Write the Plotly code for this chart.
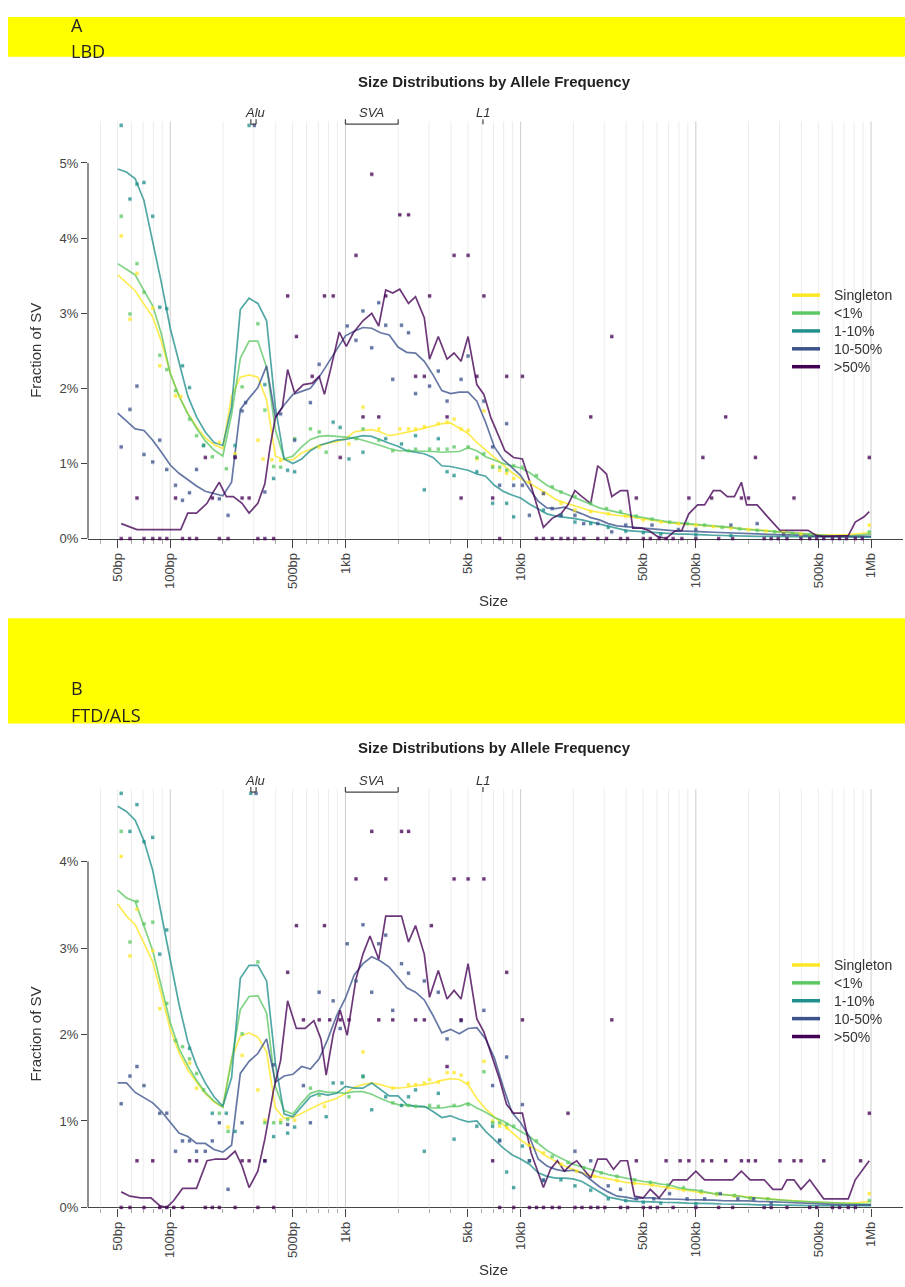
import numpy as np
import plotly.graph_objects as go

W, H = 905, 1287

SERIES = ["Singleton", "<1%", "1-10%", "10-50%", ">50%"]
COLORS = ["#FDE725", "#5DC863", "#21908C", "#3B528B", "#440154"]

# log10(SV size in bp) of the smoothed-curve grid
LOG_GRID = np.round(np.arange(1.70, 6.0001, 0.05), 2)

# ------------------------------------------------------------------ LBD
lbd_singleton = [
    3.51, 3.40, 3.30, 3.12, 2.95, 2.62, 2.20, 1.90, 1.67, 1.49,
    1.34, 1.25, 1.20, 1.90, 2.15, 2.18, 2.15, 1.85, 1.10, 1.05,
    1.05, 1.14, 1.19, 1.24, 1.27, 1.29, 1.33, 1.42, 1.44, 1.45,
    1.42, 1.37, 1.39, 1.41, 1.44, 1.47, 1.50, 1.53, 1.54, 1.47,
    1.40, 1.28, 1.18, 1.07, 0.97, 0.88, 0.80, 0.74, 0.67, 0.60,
    0.52, 0.48, 0.44, 0.40, 0.37, 0.35, 0.33, 0.31, 0.30, 0.28,
    0.26, 0.24, 0.22, 0.21, 0.20, 0.19, 0.18, 0.17, 0.16, 0.15,
    0.14, 0.13, 0.12, 0.11, 0.10, 0.09, 0.08, 0.07, 0.065, 0.06,
    0.055, 0.05, 0.05, 0.05, 0.06, 0.07, 0.08]
lbd_lt1 = [
    3.66, 3.58, 3.51, 3.30, 3.10, 2.72, 2.20, 1.90, 1.66, 1.47,
    1.30, 1.18, 1.10, 1.65, 2.40, 2.63, 2.63, 2.28, 1.45, 1.06,
    1.10, 1.22, 1.32, 1.36, 1.37, 1.36, 1.35, 1.34, 1.31, 1.28,
    1.24, 1.20, 1.17, 1.17, 1.17, 1.17, 1.16, 1.15, 1.15, 1.16,
    1.21, 1.17, 1.09, 1.04, 1.00, 0.97, 0.94, 0.88, 0.80, 0.71,
    0.65, 0.60, 0.55, 0.50, 0.45, 0.41, 0.38, 0.35, 0.32, 0.30,
    0.28, 0.26, 0.24, 0.22, 0.21, 0.20, 0.19, 0.18, 0.17, 0.16,
    0.15, 0.13, 0.12, 0.11, 0.10, 0.09, 0.08, 0.07, 0.06, 0.05,
    0.045, 0.04, 0.035, 0.035, 0.04, 0.05, 0.06]
lbd_1_10 = [
    4.92, 4.88, 4.79, 4.50, 3.95, 3.40, 2.80, 2.33, 1.90, 1.62,
    1.42, 1.28, 1.24, 1.75, 3.05, 3.20, 3.13, 2.90, 1.75, 1.06,
    1.00, 1.06, 1.17, 1.24, 1.28, 1.31, 1.32, 1.35, 1.37, 1.36,
    1.31, 1.27, 1.23, 1.17, 1.15, 1.13, 1.08, 0.97, 0.96, 0.94,
    0.91, 0.86, 0.83, 0.71, 0.63, 0.58, 0.54, 0.46, 0.40, 0.33,
    0.30, 0.29, 0.27, 0.25, 0.22, 0.19, 0.16, 0.13, 0.11, 0.10,
    0.09, 0.08, 0.07, 0.07, 0.06, 0.06, 0.06, 0.05, 0.045, 0.04,
    0.04, 0.035, 0.035, 0.03, 0.03, 0.03, 0.03, 0.025, 0.025, 0.02,
    0.02, 0.02, 0.02, 0.02, 0.02, 0.02, 0.02]
lbd_10_50 = [
    1.67, 1.57, 1.46, 1.44, 1.31, 1.15, 0.98, 0.87, 0.78, 0.70,
    0.63, 0.60, 0.57, 0.75, 1.72, 1.87, 2.01, 2.30, 1.62, 1.78,
    1.92, 1.96, 2.00, 2.15, 2.33, 2.52, 2.70, 2.76, 2.81, 2.80,
    2.74, 2.71, 2.55, 2.48, 2.47, 2.36, 2.18, 1.97, 1.93, 1.95,
    1.95, 1.83, 1.55, 1.22, 1.05, 0.95, 0.84, 0.66, 0.50, 0.41,
    0.40, 0.42, 0.38, 0.33, 0.28, 0.25, 0.20, 0.17, 0.16, 0.15,
    0.14, 0.12, 0.11, 0.11, 0.10, 0.10, 0.09, 0.09, 0.085, 0.08,
    0.075, 0.07, 0.065, 0.06, 0.06, 0.055, 0.05, 0.05, 0.04, 0.035,
    0.03, 0.03, 0.03, 0.03, 0.03, 0.03, 0.03]
# >50% is noisy, so it keeps its own (log10 size, %) vertices
lbd_gt50 = [
    (1.72, 0.20), (1.77, 0.16), (1.81, 0.12), (2.00, 0.12), (2.06, 0.12),
    (2.10, 0.34), (2.15, 0.34), (2.21, 0.47), (2.24, 0.60), (2.28, 0.75),
    (2.32, 0.56), (2.36, 0.56), (2.41, 0.47), (2.45, 0.34), (2.50, 0.47),
    (2.54, 0.73), (2.57, 1.22), (2.60, 1.61), (2.64, 1.75), (2.67, 2.25),
    (2.71, 1.94), (2.76, 2.05), (2.81, 2.07), (2.85, 2.16), (2.88, 1.92),
    (2.92, 2.30), (2.965, 2.75), (3.005, 2.56), (3.045, 2.74), (3.10, 2.90),
    (3.15, 3.00), (3.19, 2.83), (3.23, 3.31), (3.27, 3.27), (3.31, 3.32),
    (3.36, 3.13), (3.40, 3.22), (3.45, 2.94), (3.48, 2.39), (3.53, 2.69),
    (3.58, 2.39), (3.62, 2.47), (3.66, 2.36), (3.70, 2.69), (3.75, 2.05),
    (3.79, 1.92), (3.83, 1.61), (3.87, 1.39), (3.91, 1.17), (3.96, 1.08),
    (4.01, 1.06), (4.06, 0.70), (4.09, 0.45), (4.13, 0.15), (4.18, 0.27),
    (4.23, 0.33), (4.27, 0.45), (4.31, 0.64), (4.35, 0.56), (4.40, 0.47),
    (4.44, 0.97), (4.49, 0.86), (4.52, 0.56), (4.57, 0.64), (4.61, 0.64),
    (4.64, 0.14), (4.69, 0.14), (4.73, 0.11), (4.78, 0.03), (4.83, 0.00),
    (4.88, 0.10), (4.92, 0.11), (4.96, 0.33), (5.01, 0.45), (5.05, 0.45),
    (5.10, 0.64), (5.14, 0.64), (5.18, 0.56), (5.22, 0.56), (5.26, 0.75),
    (5.29, 0.45), (5.35, 0.45), (5.41, 0.29), (5.48, 0.11), (5.56, 0.11),
    (5.64, 0.11), (5.69, 0.04), (5.73, 0.03), (5.87, 0.04), (5.91, 0.22),
    (5.96, 0.29), (5.99, 0.36)]

# per-bin raw fractions (log10 size, %)
lbd_dots_singleton = [
    (1.72, 4.03), (1.77, 2.92), (1.81, 3.53), (1.90, 3.07), (1.94, 2.30),
    (2.03, 1.90), (2.06, 1.89), (2.28, 1.28), (2.37, 1.13), (2.50, 1.31),
    (2.53, 1.06), (2.58, 1.05), (2.63, 1.04), (2.85, 1.22), (3.02, 1.26),
    (3.10, 1.75), (3.19, 1.46), (3.31, 1.46), (3.36, 1.46), (3.40, 1.46),
    (3.45, 1.49), (3.53, 1.53), (3.58, 1.55), (3.62, 1.59), (3.66, 1.46),
    (3.70, 1.44), (3.75, 1.06), (3.79, 1.70), (3.84, 0.97), (3.88, 0.91),
    (3.92, 0.87), (3.96, 0.80), (4.05, 0.75), (4.13, 0.60), (4.23, 0.47),
    (4.31, 0.38), (4.40, 0.36), (4.50, 0.33), (4.60, 0.30), (4.70, 0.25),
    (4.80, 0.22), (4.90, 0.20), (5.00, 0.18), (5.10, 0.16), (5.20, 0.14),
    (5.30, 0.12), (5.40, 0.10), (5.50, 0.08), (5.60, 0.06), (5.99, 0.18)]
lbd_dots_lt1 = [
    (1.72, 4.29), (1.77, 2.99), (1.81, 3.66), (1.85, 3.28), (1.94, 2.44),
    (1.98, 2.25), (2.03, 1.97), (2.11, 1.59), (2.15, 1.37), (2.19, 1.24),
    (2.24, 1.09), (2.32, 0.93), (2.41, 2.02), (2.50, 2.86), (2.54, 1.71),
    (2.59, 0.96), (2.63, 0.95), (2.71, 1.33), (2.80, 1.46), (2.85, 1.42),
    (2.89, 1.15), (3.06, 1.33), (3.10, 1.46), (3.19, 1.31), (3.27, 1.17),
    (3.36, 1.17), (3.40, 1.19), (3.48, 1.19), (3.53, 1.19), (3.58, 1.19),
    (3.62, 1.22), (3.70, 1.22), (3.75, 1.08), (3.79, 1.13), (3.84, 0.95),
    (3.88, 0.95), (3.92, 0.91), (3.96, 0.97), (4.01, 0.95), (4.09, 0.84),
    (4.18, 0.69), (4.23, 0.62), (4.31, 0.56), (4.40, 0.47), (4.49, 0.40),
    (4.57, 0.36), (4.66, 0.30), (4.75, 0.26), (4.85, 0.22), (4.95, 0.20),
    (5.05, 0.18), (5.15, 0.15), (5.25, 0.13), (5.35, 0.11), (5.45, 0.09),
    (5.55, 0.07), (5.65, 0.05), (5.99, 0.09)]
lbd_dots_1_10 = [
    (1.72, 5.50), (1.77, 4.52), (1.81, 4.72), (1.85, 4.74), (1.90, 4.29),
    (1.94, 3.08), (1.98, 3.06), (2.07, 2.30), (2.11, 2.01), (2.19, 1.24),
    (2.37, 1.24), (2.45, 5.50), (2.54, 2.05), (2.59, 0.80), (2.67, 0.91),
    (2.71, 0.89), (2.93, 1.55), (2.97, 1.48), (3.02, 1.06), (3.10, 1.15),
    (3.23, 1.33), (3.32, 1.26), (3.40, 1.37), (3.45, 0.65), (3.53, 1.33),
    (3.58, 0.89), (3.62, 0.84), (3.75, 0.89), (3.84, 0.47), (3.92, 0.47),
    (3.96, 0.29), (4.13, 0.38), (4.23, 0.31), (4.31, 0.22), (4.40, 0.20),
    (4.50, 0.15), (4.60, 0.10), (4.70, 0.08), (4.80, 0.06), (5.00, 0.05),
    (5.20, 0.04)]
lbd_dots_10_50 = [
    (1.72, 1.22), (1.77, 1.72), (1.81, 2.03), (1.85, 1.12), (1.90, 1.02),
    (1.94, 1.31), (1.98, 0.92), (2.03, 0.71), (2.07, 0.51), (2.11, 0.61),
    (2.15, 0.92), (2.28, 0.53), (2.33, 0.31), (2.37, 1.09), (2.41, 1.70),
    (2.43, 1.81), (2.48, 5.50), (2.54, 0.62), (2.63, 1.66), (2.71, 1.31),
    (2.80, 1.81), (2.85, 2.32), (3.01, 2.83), (3.06, 2.64), (3.10, 3.03),
    (3.15, 2.54), (3.19, 3.14), (3.23, 2.84), (3.27, 2.12), (3.32, 2.84),
    (3.36, 2.74), (3.40, 1.93), (3.48, 2.03), (3.53, 2.23), (3.58, 1.83),
    (3.66, 2.12), (3.70, 2.43), (3.79, 1.83), (3.84, 1.22), (3.88, 0.71),
    (3.92, 1.53), (3.96, 0.71), (4.01, 0.71), (4.05, 0.31), (4.13, 0.60),
    (4.18, 0.40), (4.23, 0.31), (4.31, 0.31), (4.36, 0.20), (4.44, 0.20),
    (4.52, 0.09), (4.60, 0.18), (4.75, 0.18), (4.90, 0.12), (5.00, 0.12),
    (5.20, 0.18), (5.35, 0.20), (5.50, 0.06)]
lbd_dots_gt50 = [
    (1.81, 0.54), (2.03, 0.54), (2.20, 1.08), (2.24, 0.54), (2.37, 1.08),
    (2.41, 0.54), (2.45, 0.54), (2.67, 3.23), (2.72, 2.69), (2.81, 2.16),
    (2.88, 3.23), (2.93, 3.23), (2.97, 1.08), (3.06, 3.77), (3.10, 1.62),
    (3.15, 4.85), (3.19, 1.62), (3.23, 3.23), (3.31, 4.31), (3.36, 4.31),
    (3.40, 2.16), (3.45, 2.16), (3.48, 3.23), (3.58, 1.62), (3.62, 3.77),
    (3.66, 0.54), (3.70, 3.77), (3.75, 2.16), (3.79, 3.23), (3.84, 0.54),
    (3.92, 2.16), (4.01, 2.16), (4.40, 1.62), (4.52, 2.69), (4.66, 0.54),
    (4.96, 0.54), (5.04, 1.08), (5.09, 0.54), (5.17, 1.62), (5.26, 0.54),
    (5.30, 0.54), (5.34, 1.08), (5.56, 0.54), (5.99, 1.08)]
# log10 sizes of >50% bins with no SV (drawn on the 0% line)
lbd_zero_gt50 = [
    1.72, 1.77, 1.85, 1.90, 1.94, 1.98, 2.07, 2.11, 2.15, 2.28, 2.33, 2.50,
    2.54, 2.59, 3.88, 4.09, 4.13, 4.18, 4.23, 4.27, 4.31, 4.36, 4.44, 4.49,
    4.57, 4.61, 4.70, 4.74, 4.79, 4.83, 4.87, 4.92, 5.00, 5.13, 5.21, 5.39,
    5.43, 5.47, 5.52, 5.60, 5.65, 5.69, 5.73, 5.78, 5.82, 5.86, 5.91, 5.95]

# ------------------------------------------------------------------ FTD/ALS
ftd_singleton = [
    3.51, 3.37, 3.27, 3.06, 2.84, 2.46, 2.06, 1.79, 1.59, 1.45,
    1.32, 1.22, 1.16, 1.72, 1.98, 2.02, 1.97, 1.80, 1.15, 1.03,
    1.04, 1.09, 1.14, 1.19, 1.23, 1.26, 1.32, 1.39, 1.42, 1.44,
    1.42, 1.39, 1.38, 1.39, 1.41, 1.42, 1.44, 1.47, 1.49, 1.48,
    1.42, 1.26, 1.14, 1.05, 0.95, 0.86, 0.78, 0.71, 0.66, 0.59,
    0.53, 0.48, 0.44, 0.40, 0.37, 0.35, 0.33, 0.31, 0.29, 0.28,
    0.27, 0.26, 0.24, 0.23, 0.21, 0.20, 0.18, 0.17, 0.16, 0.15,
    0.14, 0.13, 0.12, 0.11, 0.10, 0.09, 0.085, 0.08, 0.07, 0.065,
    0.06, 0.055, 0.05, 0.05, 0.05, 0.06, 0.07]
ftd_lt1 = [
    3.67, 3.58, 3.54, 3.25, 2.97, 2.55, 2.14, 1.84, 1.64, 1.47,
    1.33, 1.23, 1.16, 1.70, 2.29, 2.44, 2.45, 2.25, 1.40, 1.12,
    1.08, 1.21, 1.32, 1.35, 1.33, 1.33, 1.32, 1.34, 1.34, 1.31,
    1.26, 1.22, 1.19, 1.18, 1.17, 1.16, 1.15, 1.15, 1.17, 1.17,
    1.21, 1.15, 1.10, 1.04, 1.00, 0.94, 0.88, 0.82, 0.74, 0.66,
    0.60, 0.55, 0.50, 0.47, 0.44, 0.41, 0.38, 0.36, 0.34, 0.32,
    0.30, 0.29, 0.27, 0.26, 0.23, 0.21, 0.20, 0.18, 0.16, 0.15,
    0.14, 0.13, 0.11, 0.11, 0.10, 0.09, 0.08, 0.075, 0.07, 0.065,
    0.06, 0.055, 0.05, 0.045, 0.04, 0.04, 0.04]
ftd_1_10 = [
    4.64, 4.58, 4.48, 4.24, 3.90, 3.37, 2.85, 2.35, 1.92, 1.64,
    1.44, 1.28, 1.17, 1.50, 2.65, 2.80, 2.80, 2.62, 1.67, 1.08,
    1.05, 1.17, 1.28, 1.32, 1.30, 1.32, 1.40, 1.38, 1.38, 1.44,
    1.36, 1.29, 1.29, 1.19, 1.17, 1.17, 1.11, 1.04, 1.06, 1.02,
    0.99, 1.00, 0.88, 0.78, 0.69, 0.61, 0.56, 0.50, 0.40, 0.36,
    0.34, 0.34, 0.33, 0.30, 0.24, 0.17, 0.12, 0.10, 0.08, 0.07,
    0.07, 0.065, 0.06, 0.06, 0.055, 0.05, 0.05, 0.045, 0.045, 0.04,
    0.04, 0.035, 0.035, 0.03, 0.03, 0.03, 0.025, 0.025, 0.025, 0.02,
    0.02, 0.02, 0.02, 0.02, 0.02, 0.02, 0.02]
ftd_10_50 = [
    1.44, 1.44, 1.33, 1.27, 1.21, 1.11, 0.98, 0.86, 0.82, 0.74,
    0.74, 0.67, 0.64, 0.72, 1.55, 1.69, 1.78, 1.95, 1.45, 1.52,
    1.54, 1.63, 1.60, 1.72, 1.95, 2.22, 2.42, 2.69, 2.82, 2.90,
    2.85, 2.78, 2.66, 2.54, 2.49, 2.40, 2.22, 2.02, 2.06, 2.01,
    2.07, 2.08, 1.95, 1.73, 1.40, 1.10, 0.98, 0.82, 0.56, 0.48,
    0.44, 0.42, 0.43, 0.40, 0.32, 0.24, 0.18, 0.13, 0.12, 0.10,
    0.11, 0.11, 0.10, 0.10, 0.095, 0.09, 0.09, 0.09, 0.085, 0.08,
    0.08, 0.08, 0.075, 0.07, 0.07, 0.065, 0.06, 0.055, 0.05, 0.045,
    0.04, 0.035, 0.035, 0.03, 0.03, 0.03, 0.03]
ftd_gt50 = [
    (1.72, 0.18), (1.77, 0.13), (1.83, 0.11), (1.89, 0.11), (1.94, 0.02),
    (1.98, 0.00), (2.02, 0.08), (2.07, 0.22), (2.15, 0.22), (2.21, 0.54),
    (2.26, 0.56), (2.32, 0.56), (2.37, 0.65), (2.41, 0.48), (2.45, 0.23),
    (2.50, 0.42), (2.54, 0.79), (2.59, 1.36), (2.63, 1.70), (2.67, 2.39),
    (2.72, 2.07), (2.77, 2.07), (2.82, 2.16), (2.86, 1.95), (2.89, 1.53),
    (2.93, 2.00), (2.97, 2.28), (3.01, 1.99), (3.06, 2.64), (3.10, 2.93),
    (3.14, 3.14), (3.19, 2.87), (3.23, 3.37), (3.27, 3.37), (3.32, 3.37),
    (3.36, 3.07), (3.40, 3.26), (3.45, 2.93), (3.48, 2.43), (3.53, 2.74),
    (3.58, 2.41), (3.62, 2.51), (3.66, 2.41), (3.70, 2.82), (3.75, 2.18),
    (3.79, 2.03), (3.83, 1.78), (3.88, 1.48), (3.92, 1.19), (3.96, 1.09),
    (4.01, 1.09), (4.06, 0.63), (4.09, 0.46), (4.13, 0.23), (4.17, 0.44),
    (4.21, 0.54), (4.25, 0.42), (4.29, 0.50), (4.32, 0.54), (4.36, 0.44),
    (4.40, 0.34), (4.44, 0.56), (4.49, 0.56), (4.53, 0.44), (4.57, 0.54),
    (4.61, 0.54), (4.65, 0.13), (4.70, 0.11), (4.74, 0.21), (4.79, 0.11),
    (4.87, 0.32), (4.95, 0.32), (5.00, 0.42), (5.05, 0.32), (5.12, 0.32),
    (5.21, 0.32), (5.26, 0.42), (5.31, 0.32), (5.39, 0.32), (5.44, 0.21),
    (5.49, 0.21), (5.52, 0.32), (5.56, 0.32), (5.60, 0.21), (5.65, 0.32),
    (5.69, 0.21), (5.73, 0.10), (5.79, 0.10), (5.87, 0.10), (5.91, 0.32),
    (5.94, 0.40), (5.99, 0.54)]

ftd_dots_singleton = [
    (1.72, 4.06), (1.77, 2.91), (1.81, 3.45), (1.90, 2.97), (1.94, 2.30),
    (2.11, 1.67), (2.15, 1.38), (2.33, 0.93), (2.41, 1.76), (2.50, 1.36),
    (2.54, 1.01), (2.63, 1.01), (2.71, 1.01), (2.88, 1.17), (3.10, 1.80),
    (3.27, 1.38), (3.36, 1.42), (3.40, 1.42), (3.45, 1.44), (3.48, 1.48),
    (3.53, 1.45), (3.58, 1.56), (3.62, 1.56), (3.66, 1.53), (3.70, 1.44),
    (3.79, 1.69), (3.84, 1.00), (3.88, 0.94), (3.92, 0.92), (4.05, 0.72),
    (4.13, 0.63), (4.23, 0.50), (4.32, 0.42), (4.42, 0.36), (4.55, 0.31),
    (4.65, 0.28), (4.75, 0.26), (4.84, 0.23), (4.93, 0.20), (5.03, 0.17),
    (5.12, 0.15), (5.22, 0.13), (5.31, 0.11), (5.41, 0.10), (5.99, 0.16)]
ftd_dots_lt1 = [
    (1.72, 4.35), (1.77, 3.07), (1.81, 3.54), (1.85, 3.28), (1.90, 3.30),
    (1.98, 2.36), (2.03, 1.93), (2.07, 1.86), (2.11, 1.72), (2.15, 1.55),
    (2.19, 1.36), (2.28, 1.09), (2.33, 0.88), (2.41, 2.01), (2.50, 2.84),
    (2.54, 0.98), (2.59, 0.98), (2.63, 0.98), (2.67, 1.02), (2.80, 1.38),
    (2.85, 1.30), (3.02, 1.28), (3.10, 1.51), (3.27, 1.21), (3.36, 1.18),
    (3.40, 1.17), (3.48, 1.18), (3.53, 1.17), (3.62, 1.18), (3.70, 1.19),
    (3.79, 1.57), (3.84, 0.98), (3.88, 0.98), (3.92, 0.96), (3.96, 0.94),
    (4.09, 0.77), (4.18, 0.59), (4.27, 0.52), (4.36, 0.46), (4.46, 0.40),
    (4.55, 0.36), (4.65, 0.32), (4.74, 0.29), (4.84, 0.26), (4.93, 0.23),
    (5.03, 0.19), (5.12, 0.16), (5.22, 0.14), (5.31, 0.11), (5.41, 0.10),
    (5.99, 0.08)]
ftd_dots_1_10 = [
    (1.72, 4.79), (1.77, 4.35), (1.81, 4.66), (1.85, 4.23), (1.90, 4.28),
    (1.94, 2.93), (1.98, 3.21), (2.11, 1.84), (2.24, 1.09), (2.32, 1.09),
    (2.37, 0.88), (2.46, 4.79), (2.59, 0.82), (2.67, 0.86), (2.71, 0.93),
    (2.89, 1.05), (2.93, 1.44), (2.98, 1.44), (3.10, 1.52), (3.15, 1.13),
    (3.23, 1.28), (3.32, 1.18), (3.36, 1.28), (3.40, 1.36), (3.45, 0.65),
    (3.53, 1.32), (3.62, 0.79), (3.75, 0.94), (3.84, 0.94), (3.88, 0.78),
    (3.92, 0.41), (3.96, 0.23), (4.01, 0.71), (4.05, 0.54), (4.13, 0.32),
    (4.23, 0.32), (4.31, 0.25), (4.40, 0.20), (4.50, 0.10), (4.60, 0.08),
    (4.70, 0.06), (4.80, 0.05), (5.00, 0.04)]
ftd_dots_10_50 = [
    (1.72, 1.20), (1.77, 1.52), (1.81, 1.63), (1.85, 1.41), (1.94, 1.09),
    (1.98, 1.09), (2.03, 0.65), (2.07, 0.77), (2.11, 0.77), (2.15, 0.65),
    (2.20, 0.65), (2.24, 0.77), (2.28, 0.98), (2.33, 0.21), (2.41, 0.98),
    (2.49, 4.79), (2.54, 0.54), (2.59, 1.65), (2.67, 0.96), (2.76, 1.41),
    (2.80, 0.98), (2.85, 2.49), (2.93, 2.39), (2.97, 2.07), (3.01, 3.05),
    (3.06, 2.62), (3.10, 3.27), (3.15, 2.49), (3.19, 3.05), (3.23, 3.15),
    (3.27, 2.28), (3.32, 2.82), (3.36, 2.71), (3.45, 2.62), (3.53, 2.49),
    (3.58, 1.95), (3.66, 2.16), (3.79, 2.28), (3.84, 1.41), (3.88, 0.77),
    (3.92, 1.74), (4.01, 1.19), (4.05, 0.54), (4.13, 0.31), (4.31, 0.65),
    (4.40, 0.54), (4.50, 0.25), (4.57, 0.21), (4.66, 0.10), (4.76, 0.10),
    (4.85, 0.16), (4.95, 0.10), (5.05, 0.10), (5.14, 0.16), (5.24, 0.10),
    (5.33, 0.10), (5.43, 0.05)]
ftd_dots_gt50 = [
    (1.81, 0.54), (1.90, 0.54), (2.11, 0.54), (2.15, 0.54), (2.41, 0.54),
    (2.45, 0.54), (2.54, 0.54), (2.67, 2.72), (2.72, 3.26), (2.76, 2.17),
    (2.85, 2.17), (2.88, 3.26), (2.91, 2.17), (2.97, 2.17), (3.02, 2.17),
    (3.06, 3.80), (3.15, 4.35), (3.19, 2.17), (3.23, 3.80), (3.27, 2.17),
    (3.32, 4.35), (3.36, 4.35), (3.40, 2.17), (3.45, 2.17), (3.49, 3.26),
    (3.58, 1.63), (3.62, 3.80), (3.66, 2.17), (3.70, 3.80), (3.79, 3.80),
    (3.84, 0.54), (3.92, 2.72), (4.01, 2.17), (4.27, 1.09), (4.52, 2.17),
    (4.66, 0.54), (4.83, 0.54), (4.91, 0.54), (4.96, 0.54), (5.04, 0.54),
    (5.09, 0.54), (5.17, 0.54), (5.26, 0.54), (5.30, 0.54), (5.34, 0.54),
    (5.48, 0.54), (5.56, 0.54), (5.60, 0.54), (5.73, 0.54), (5.94, 0.54),
    (5.99, 1.09)]
ftd_zero_gt50 = [
    1.72, 1.77, 1.85, 1.94, 1.98, 2.02, 2.07, 2.20, 2.24, 2.28, 2.37, 2.50,
    2.59, 3.88, 3.96, 4.05, 4.09, 4.13, 4.18, 4.22, 4.31, 4.35, 4.40, 4.44,
    4.48, 4.57, 4.61, 4.70, 4.74, 4.78, 4.87, 5.00, 5.13, 5.21, 5.39, 5.43,
    5.52, 5.65, 5.69, 5.78, 5.82, 5.87, 5.91]

# x tick labels
MAJOR_SIZES = [50, 100, 500, 1e3, 5e3, 1e4, 5e4, 1e5, 5e5, 1e6]
MAJOR_LABELS = ["50bp", "100bp", "500bp", "1kb", "5kb", "10kb",
                "50kb", "100kb", "500kb", "1Mb"]

# mobile element size marks: (label, log10 start, log10 end, label log10)
ELEMENTS = [("Alu", 2.46, 2.49, 2.483), ("SVA", 3.0, 3.301, 3.15),
            ("L1", 3.785, 3.785, 3.784)]

# ------------------------------------------------------------------ layout geometry
X_PX = (88, 903)                     # plot left / right edge
X_LOG = (1.5306, 6.1824)             # log10 size at those edges
PANELS = [
    dict(name="A", label="LBD", band=(17, 57), band_text=(25, 51),
         title_y=82, elem_y=113, bracket_y=125, y0=542, ppp=75.6, top=122,
         ymax_tick=5, legend_y=297, xtitle_y=604, ytitle_y=353,
         lines=[lbd_singleton, lbd_lt1, lbd_1_10, lbd_10_50, lbd_gt50],
         dots=[lbd_dots_singleton, lbd_dots_lt1, lbd_dots_1_10,
               lbd_dots_10_50, lbd_dots_gt50],
         zeros=lbd_zero_gt50),
    dict(name="B", label="FTD/ALS", band=(622, 728), band_text=(692, 719),
         title_y=752, elem_y=785, bracket_y=797, y0=1215, ppp=87.0, top=794,
         ymax_tick=4, legend_y=971, xtitle_y=1277, ytitle_y=1041,
         lines=[ftd_singleton, ftd_lt1, ftd_1_10, ftd_10_50, ftd_gt50],
         dots=[ftd_dots_singleton, ftd_dots_lt1, ftd_dots_1_10,
               ftd_dots_10_50, ftd_dots_gt50],
         zeros=ftd_zero_gt50),
]


def px(x):
    return x / W


def py(y):
    return 1 - y / H


def log_to_paper(lg):
    frac = (lg - X_LOG[0]) / (X_LOG[1] - X_LOG[0])
    return px(X_PX[0] + frac * (X_PX[1] - X_PX[0]))


minor_sizes = [m * 10 ** e for e in range(1, 7) for m in range(1, 10)
               if 35 < m * 10 ** e <= 1e6 and m * 10 ** e not in MAJOR_SIZES]
grid_sizes = sorted(minor_sizes + MAJOR_SIZES)

fig = go.Figure()
shapes, annotations = [], []
FONT = "Liberation Sans, Arial, sans-serif"

for k, p in enumerate(PANELS):
    xa = "x" if k == 0 else "x2"
    ya = "y" if k == 0 else "y2"
    ytop = (p["y0"] - p["top"]) / p["ppp"]

    # vertical guide lines
    for dark in (False, True):
        gx, gy = [], []
        for s in grid_sizes:
            is_dec = abs(np.log10(s) - round(np.log10(s))) < 1e-9
            if is_dec == dark:
                gx += [s, s, None]
                gy += [0, ytop, None]
        fig.add_trace(go.Scatter(
            x=gx, y=gy, mode="lines", xaxis=xa, yaxis=ya, hoverinfo="skip",
            line=dict(color="#cdcdcd" if dark else "#ececec", width=1),
            showlegend=False))

    # smoothed curves
    for i in range(5):
        if i < 4:
            xs = 10 ** LOG_GRID
            ys = p["lines"][i]
        else:
            xs = [10 ** a for a, _ in p["lines"][i]]
            ys = [b for _, b in p["lines"][i]]
        fig.add_trace(go.Scatter(
            x=xs, y=ys, mode="lines", xaxis=xa, yaxis=ya, name=SERIES[i],
            line=dict(color=COLORS[i], width=1.7), opacity=0.78,
            showlegend=False, hoverinfo="skip"))

    # raw per-bin points
    for i in range(5):
        d = p["dots"][i]
        xs = [10 ** a for a, _ in d]
        ys = [b for _, b in d]
        if i == 4:
            xs += [10 ** a for a in p["zeros"]]
            ys += [0.0] * len(p["zeros"])
        fig.add_trace(go.Scatter(
            x=xs, y=ys, mode="markers", xaxis=xa, yaxis=ya, name=SERIES[i],
            marker=dict(symbol="square", size=3.4, color=COLORS[i],
                        line=dict(width=0)),
            opacity=0.8, cliponaxis=False, showlegend=False,
            hoverinfo="skip"))

    ax_common = dict(
        domain=[px(X_PX[0]), px(X_PX[1])], type="log", range=list(X_LOG),
        tickmode="array", tickvals=MAJOR_SIZES, ticktext=MAJOR_LABELS,
        tickangle=-90, ticks="outside", ticklen=8, tickwidth=1.2,
        tickcolor="#444", tickfont=dict(family=FONT, size=13, color="#444"),
        showline=True, linecolor="#444", linewidth=1.2, showgrid=False,
        zeroline=False, layer="below traces",
        minor=dict(tickmode="array", tickvals=minor_sizes, ticks="outside",
                   ticklen=4, tickwidth=1, tickcolor="#aaaaaa",
                   showgrid=False),
        anchor=ya)
    ay_common = dict(
        domain=[py(p["y0"]), py(p["top"])], range=[0, ytop],
        tickmode="array", tickvals=list(range(p["ymax_tick"] + 1)),
        ticktext=[f"{v}%" for v in range(p["ymax_tick"] + 1)],
        ticks="outside", ticklen=6, tickwidth=1.2, tickcolor="#444",
        tickfont=dict(family=FONT, size=13, color="#444"),
        showline=False, showgrid=False, zeroline=False, anchor=xa,
        layer="below traces")
    if k == 0:
        fig.update_layout(xaxis=ax_common, yaxis=ay_common)
    else:
        fig.update_layout(xaxis2=ax_common, yaxis2=ay_common)

    # y axis line, spanning the labelled ticks only
    shapes.append(dict(type="line", xref="paper", yref=ya,
                       x0=px(X_PX[0]), x1=px(X_PX[0]), y0=0,
                       y1=p["ymax_tick"], line=dict(color="#444", width=1.2)))

    # yellow header band with panel letter and cohort
    b0, b1 = p["band"]
    shapes.append(dict(type="rect", xref="paper", yref="paper", x0=px(8),
                       x1=1, y0=py(b1), y1=py(b0), fillcolor="#FFFF00",
                       line=dict(width=0), layer="below"))
    for txt, yy in zip([p["name"], p["label"]], p["band_text"]):
        annotations.append(dict(
            text=txt, xref="paper", yref="paper", x=px(69), y=py(yy),
            xanchor="left", yanchor="middle", showarrow=False,
            font=dict(family="Open Sans, Noto Sans, sans-serif", size=18,
                      color="#222")))

    # titles
    annotations.append(dict(
        text="<b>Size Distributions by Allele Frequency</b>", xref="paper",
        yref="paper", x=px(494), y=py(p["title_y"]), xanchor="center",
        yanchor="middle", showarrow=False,
        font=dict(family=FONT, size=15, color="#222")))
    annotations.append(dict(
        text="Size", xref="paper", yref="paper", x=px(493),
        y=py(p["xtitle_y"]), xanchor="center", yanchor="middle",
        showarrow=False, font=dict(family=FONT, size=15, color="#333")))
    annotations.append(dict(
        text="Fraction of SV", xref="paper", yref="paper", x=px(36),
        y=py(p["ytitle_y"]), xanchor="center", yanchor="middle",
        textangle=-90, showarrow=False,
        font=dict(family=FONT, size=15, color="#333")))

    # mobile element marks
    by = p["bracket_y"]
    for lab, l0, l1, lc in ELEMENTS:
        annotations.append(dict(
            text=f"<i>{lab}</i>", xref="paper", yref="paper",
            x=log_to_paper(lc), y=py(p["elem_y"]), xanchor="center",
            yanchor="middle", showarrow=False,
            font=dict(family=FONT, size=13, color="#333")))
        xa0, xa1 = log_to_paper(l0), log_to_paper(l1)
        if xa1 > xa0:
            shapes.append(dict(type="line", xref="paper", yref="paper",
                               x0=xa0, x1=xa1, y0=py(by), y1=py(by),
                               line=dict(color="#444", width=1.2)))
        for xe in {xa0, xa1}:
            shapes.append(dict(type="line", xref="paper", yref="paper",
                               x0=xe, x1=xe, y0=py(by), y1=py(by - 5),
                               line=dict(color="#444", width=1.2)))

    # legend
    for i, nm in enumerate(SERIES):
        yy = p["legend_y"] + 18 * i
        shapes.append(dict(type="line", xref="paper", yref="paper",
                           x0=px(792), x1=px(820), y0=py(yy), y1=py(yy),
                           line=dict(color=COLORS[i], width=3.5)))
        annotations.append(dict(
            text=nm, xref="paper", yref="paper", x=px(832), y=py(yy),
            xanchor="left", yanchor="middle", showarrow=False,
            font=dict(family=FONT, size=14, color="#333")))

fig.update_layout(
    width=W, height=H, margin=dict(l=0, r=0, t=0, b=0),
    paper_bgcolor="white", plot_bgcolor="white", showlegend=False,
    font=dict(family=FONT, color="#333"),
    shapes=shapes, annotations=annotations)

fig.write_html("out.html")
